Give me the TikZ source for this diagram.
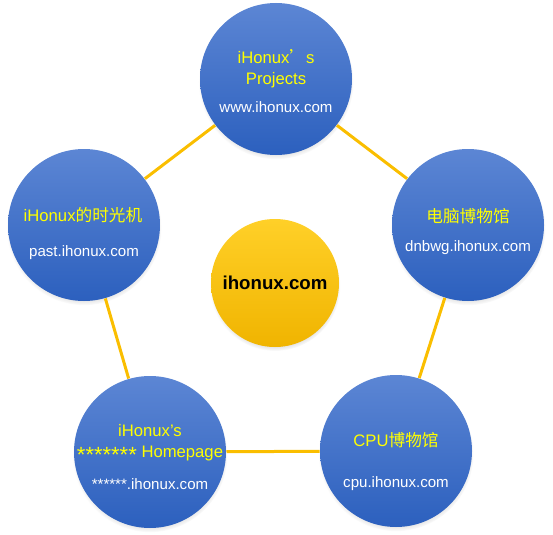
\documentclass[tikz,border=0pt]{standalone}
\usepackage{fontspec}
\setmainfont{Liberation Sans}
\newfontfamily\cjk{Noto Sans CJK SC}
\usetikzlibrary{shadows}

\definecolor{sitebluetop}{RGB}{92,134,212}
\definecolor{sitebluebot}{RGB}{44,96,190}
\definecolor{hubtop}{RGB}{255,208,40}
\definecolor{hubbot}{RGB}{240,180,0}
\definecolor{linkline}{RGB}{250,190,0}
\definecolor{titleyellow}{RGB}{255,255,0}

\tikzset{every picture/.style={line width=0.75pt}}
\tikzset{
  sitedisc/.style={circle, minimum size=114pt, inner sep=0pt, top color=sitebluetop, bottom color=sitebluebot, draw=none,
    circular drop shadow={shadow xshift=0pt, shadow yshift=-2pt, shadow scale=1.02, opacity=0.45}},
  hubdisc/.style={circle, minimum size=96pt, inner sep=0pt, top color=hubtop, bottom color=hubbot, draw=none,
    circular drop shadow={shadow xshift=0pt, shadow yshift=-2pt, shadow scale=1.02, opacity=0.45}},
  sitetitle/.style={inner sep=0.75pt, align=center, text=titleyellow, font=\fontsize{12.5}{15.75}\selectfont},
  siteurl/.style={inner sep=0.75pt, text=white, font=\fontsize{11.3}{13}\selectfont},
  link/.style={draw=linkline, line width=2.25pt}
}

\begin{document}
\begin{tikzpicture}[x=0.75pt,y=0.75pt,yscale=-1,xscale=1]
\useasboundingbox (0,0) rectangle (553,535);

%Shape: Circle [id:projects]
\node [sitedisc] (projects) at (276,79) {};
%Shape: Circle [id:past]
\node [sitedisc] (past) at (84,225) {};
%Shape: Circle [id:dnbwg]
\node [sitedisc] (dnbwg) at (468,225) {};
%Shape: Circle [id:homepage]
\node [sitedisc] (homepage) at (150,452) {};
%Shape: Circle [id:cpu]
\node [sitedisc] (cpu) at (396,451) {};
%Shape: Circle [id:hub]
\node [hubdisc] (hub) at (275,283) {};

%Straight Lines [id:links]
\draw [link] (projects) -- (dnbwg) ;
\draw [link] (dnbwg) -- (cpu) ;
\draw [link] (cpu) -- (homepage) ;
\draw [link] (homepage) -- (past) ;
\draw [link] (past) -- (projects) ;

% Text Node
\node [sitetitle] (projectsname) at (276,68.5) {iHonux{\cjk ’}s\\Projects};
% Text Node
\node [siteurl] (projectsurl) at (276,107) {www.ihonux.com};
% Text Node
\node [sitetitle] (pastname) at (83,215) {iHonux{\cjk 的时光机}};
% Text Node
\node [siteurl] (pasturl) at (84,253) {past.ihonux.com};
% Text Node
\node [sitetitle] (dnbwgname) at (468,216) {\cjk 电脑博物馆};
% Text Node
\node [siteurl] (dnbwgurl) at (468,248) {dnbwg.ihonux.com};
% Text Node
\node [sitetitle] (homepagename) at (150,443.5) {iHonux's\\\raisebox{-3.5pt}{\fontsize{16.5}{15.75}\selectfont *******} Homepage};
% Text Node
\node [siteurl] (homepageurl) at (150,484) {******.ihonux.com};
% Text Node
\node [sitetitle] (cpuname) at (396,440) {CPU{\cjk 博物馆}};
% Text Node
\node [siteurl] (cpuurl) at (396,484) {cpu.ihonux.com};
% Text Node
\node [inner sep=0.75pt, font=\fontsize{14}{16}\selectfont\bfseries] (hubname) at (275,283) {ihonux.com};

\end{tikzpicture}
\end{document}
